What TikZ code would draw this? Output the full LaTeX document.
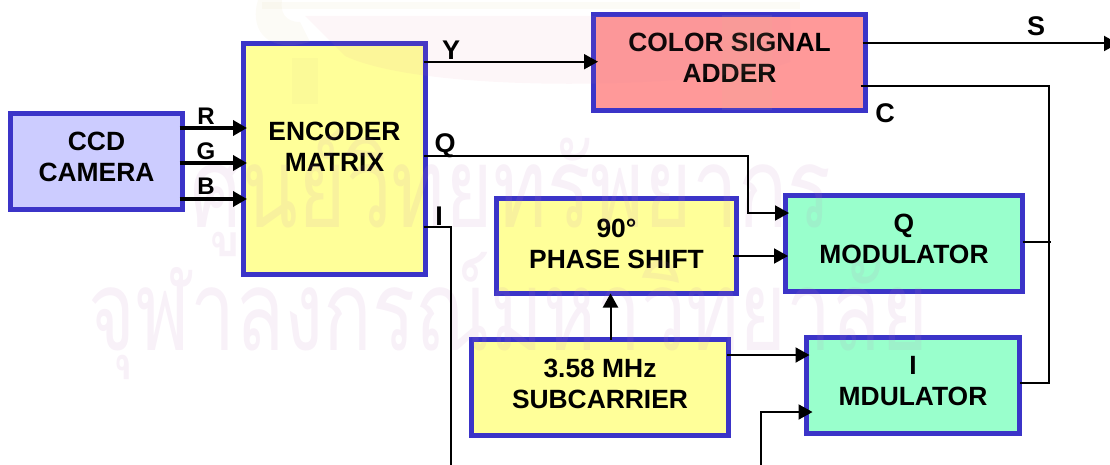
\documentclass[tikz,border=0pt]{standalone}
\usepackage{fontspec}
\usepackage{graphicx}
\setmainfont{Liberation Sans}
\newfontfamily\thaifont[Script=Thai]{Loma}
\usetikzlibrary{arrows.meta}
\definecolor{edgeblue}{HTML}{3B34C8}
\definecolor{camfill}{HTML}{CCCCFF}
\definecolor{yelfill}{HTML}{FFFF99}
\definecolor{redfill}{HTML}{FF9999}
\definecolor{grnfill}{HTML}{99FFCC}
\definecolor{wmpink}{HTML}{C080C0}
\definecolor{sealpink}{HTML}{E0809A}
\definecolor{sealcream}{HTML}{D8C890}
\tikzset{
  x=1pt,y=-1pt,
  block/.style={draw=edgeblue,line width=5pt,outer sep=0pt,inner sep=0pt},
  inblock/.style={font=\fontsize{26.4}{31}\bfseries\selectfont,align=center,inner sep=0pt},
  sig/.style={font=\fontsize{27}{27}\bfseries\selectfont,inner sep=0pt},
  rgbsig/.style={font=\fontsize{24}{24}\bfseries\selectfont,inner sep=0pt},
  wire/.style={line width=2pt,draw=black},
  arrowwire/.style={wire,-{Triangle[length=14pt,width=15pt]}},
  thickarrow/.style={line width=4.5pt,draw=black,-{Triangle[length=14pt,width=15pt]}},
  wmark/.style={font=\thaifont\fontsize{112}{112}\selectfont,text=wmpink,text opacity=0.11,inner sep=0pt},
  sealband/.style={fill=sealpink,fill opacity=0.07,draw=none},
  sealrim/.style={fill=sealcream,fill opacity=0.08,draw=none},
}
\begin{document}
\begin{tikzpicture}
\useasboundingbox (0,0) rectangle (1110,465);
% boxes
\node[block,fill=camfill,minimum width=172pt,minimum height=96pt,label={[inblock,yshift=5pt]center:{CCD\\CAMERA}}] (cam) at (96.5,161.5) {};
\node[block,fill=yelfill,minimum width=182pt,minimum height=231pt,label={[inblock,yshift=12pt]center:{ENCODER\\MATRIX}}] (enc) at (334.5,159) {};
\node[block,fill=redfill,minimum width=272pt,minimum height=96pt,label={[inblock,yshift=5pt]center:{COLOR SIGNAL\\ADDER}}] (add) at (729.5,62.5) {};
\node[block,fill=yelfill,minimum width=240pt,minimum height=95pt,label={[inblock,yshift=2pt]center:{90°\\PHASE SHIFT}}] (phase) at (616.5,246) {};
\node[block,fill=yelfill,minimum width=257pt,minimum height=96pt,label={[inblock,yshift=4pt]center:{3.58 MHz\\SUBCARRIER}}] (sub) at (600,387.5) {};
\node[block,fill=grnfill,minimum width=237pt,minimum height=96pt,label={[inblock,yshift=4.5pt]center:{Q\\MODULATOR}}] (qmod) at (904,243.5) {};
\node[block,fill=grnfill,minimum width=213pt,minimum height=96pt,label={[inblock,yshift=4.5pt]center:{I\\MDULATOR}}] (imod) at (913,385.5) {};
% watermark
\path[sealrim] (262,2) -- (800,2) -- (800,9) -- (262,9) -- cycle;
\path[sealband] (305,16) -- (790,16) -- (790,62) .. controls (720,88) and (430,96) .. (345,56) -- cycle;
\path[sealrim] (258,0) .. controls (250,25) and (262,55) .. (310,42) -- (300,22) .. controls (285,22) and (280,12) .. (282,0) -- cycle;
\path[sealrim] (292,58) -- (318,58) -- (318,104) -- (292,104) -- cycle;
\path[sealrim] (722,15) -- (772,15) -- (772,110) -- (722,110) -- cycle;
\node[wmark,anchor=base] (wm1) at (511,227) {\resizebox{640pt}{\height}{ศูนย์วิทยทรัพยากร}};
\node[wmark,anchor=base] (wm2) at (508,350) {\resizebox{840pt}{\height}{จุฬาลงกรณ์มหาวิทยาลัย}};
% free ends
\coordinate (sout) at (1118,43.5);
\coordinate (ibus) at (451,227);
\coordinate (ibot) at (451,465);
\coordinate (ibot2) at (761,465);
\coordinate (bus) at (1049,86);
% RGB
\draw[thickarrow] ([xshift=-3pt,yshift=33.5pt]cam.east) -- ([xshift=3.5pt,yshift=31pt]enc.west);
\draw[thickarrow] ([xshift=-3pt,yshift=-1.5pt]cam.east) -- ([xshift=3.5pt,yshift=-4pt]enc.west);
\draw[thickarrow] ([xshift=-3pt,yshift=-37.5pt]cam.east) -- ([xshift=3.5pt,yshift=-40pt]enc.west);
% outputs
\draw[arrowwire] ([xshift=-2pt,yshift=97.3pt]enc.east) -- ([xshift=4.5pt,yshift=0.8pt]add.west);
\draw[arrowwire] ([xshift=-3pt,yshift=19pt]add.east) -- (sout);
\draw[wire] ([xshift=-5pt,yshift=-23.5pt]add.east) -- (bus) -- ([yshift=2.5pt]bus |- imod.east) -- ([yshift=2.5pt]imod.east);
\draw[wire] ([yshift=1.5pt]qmod.east) -- ([xshift=2pt,yshift=1.5pt]bus |- qmod.east);
\draw[arrowwire] ([xshift=-2pt,yshift=3pt]enc.east) -- ++(324,0) |- ([xshift=3.5pt,yshift=30.5pt]qmod.west);
\draw[wire] ([xshift=-2pt,yshift=-68pt]enc.east) -- (ibus) -- (ibot);
\draw[arrowwire] ([xshift=-4pt,yshift=-10pt]phase.east) -- ([xshift=2.5pt,yshift=-12.5pt]qmod.west);
\draw[arrowwire] ([xshift=10.5pt]sub.north) -- ([xshift=-6pt]phase.south);
\draw[arrowwire] ([xshift=-2pt,yshift=32.5pt]sub.east) -- ([xshift=3pt,yshift=30.5pt]imod.west);
\draw[arrowwire] (ibot2) |- ([xshift=6pt,yshift=-26.5pt]imod.west);
% labels
\node[rgbsig] (lr) at (206,116) {R};
\node[rgbsig] (lg) at (206,151) {G};
\node[rgbsig] (lb) at (206,186) {B};
\node[sig] (ly) at (451,50) {Y};
\node[sig] (lq) at (445,146) {Q};
\node[sig] (li) at (439,216) {I};
\node[sig] (ls) at (1036,26) {S};
\node[sig] (lc) at (885,113) {C};
\end{tikzpicture}
\end{document}
